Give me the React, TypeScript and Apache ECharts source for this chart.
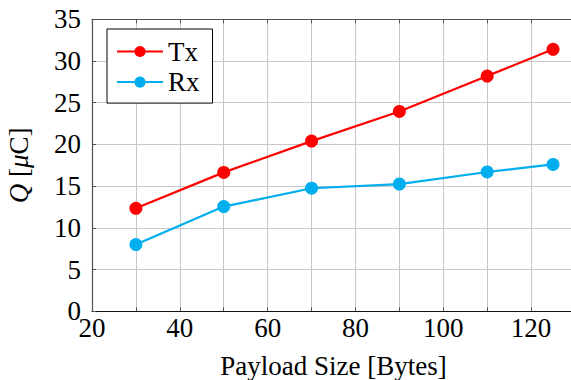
import React, { useEffect, useRef } from "react";
import * as echarts from "echarts";

const payload = [30, 50, 70, 90, 110, 125];
const txValues = [12.35, 16.65, 20.4, 23.95, 28.2, 31.4];
const rxValues = [8.0, 12.55, 14.75, 15.25, 16.7, 17.6];
const seriesNames = ["Tx", "Rx"];
const xTitle = "Payload Size [Bytes]";
const yTitle = "{i|Q} [{i|μ}C]";

const FONT = "Liberation Serif";

export default function App() {
  const ref = useRef<HTMLDivElement>(null);
  useEffect(() => {
    if (!ref.current) return;
    const chart = echarts.init(ref.current, undefined, { renderer: "svg" });
    const frameColor = "#505050";
    const gridColor = "#c8c8c8";
    const labelStyle = { fontSize: 27, fontFamily: FONT, color: "#000" };
    const option: any = {
      animation: false,
      backgroundColor: "#fff",
      grid: {
        left: 92,
        top: 19.3,
        right: 25,
        bottom: 68.7,
        containLabel: false,
        outerBoundsMode: "none",
      },
      legend: {
        orient: "vertical",
        left: 107,
        top: 29,
        data: seriesNames,
        backgroundColor: "#fff",
        borderColor: "#000",
        borderWidth: 1,
        padding: [7.5, 13, 6, 9],
        itemGap: 0.6,
        itemWidth: 46,
        itemHeight: 14,
        textStyle: { ...labelStyle, lineHeight: 30 },
      },
      xAxis: [
        {
          type: "value",
          min: 20,
          max: 130,
          interval: 10,
          name: xTitle,
          nameLocation: "middle",
          nameGap: 42.5,
          nameTextStyle: { ...labelStyle, lineHeight: 24 },
          axisLine: { show: true, onZero: false, lineStyle: { color: "#111", width: 1.2 } },
          axisTick: { show: true, inside: true, length: 4, lineStyle: { color: frameColor } },
          axisLabel: {
            ...labelStyle,
            margin: 3.5,
            formatter: (v: number) => (v % 20 === 0 && v <= 120 ? String(v) : ""),
          },
          splitLine: { show: true, lineStyle: { color: gridColor, width: 1 } },
        },
        {
          type: "value",
          position: "top",
          min: 20,
          max: 130,
          interval: 10,
          axisLine: { show: true, onZero: false, lineStyle: { color: frameColor, width: 1.2 } },
          axisTick: { show: true, inside: true, length: 4, lineStyle: { color: frameColor } },
          axisLabel: { show: false },
          splitLine: { show: false },
        },
      ],
      yAxis: [
        {
          type: "value",
          min: 0,
          max: 35,
          interval: 5,
          name: yTitle,
          nameLocation: "middle",
          nameGap: 59.5,
          nameRotate: 90,
          nameTextStyle: {
            ...labelStyle,
            rich: { i: { ...labelStyle, fontStyle: "italic" } },
          },
          axisLine: { show: true, onZero: false, lineStyle: { color: frameColor, width: 1.2 } },
          axisTick: { show: true, inside: true, length: 4, lineStyle: { color: frameColor } },
          axisLabel: { ...labelStyle, margin: 11 },
          splitLine: { show: true, lineStyle: { color: gridColor, width: 1 } },
        },
        {
          type: "value",
          position: "right",
          min: 0,
          max: 35,
          interval: 5,
          axisLine: { show: true, onZero: false, lineStyle: { color: frameColor, width: 1.2 } },
          axisTick: { show: true, inside: true, length: 4, lineStyle: { color: frameColor } },
          axisLabel: { show: false },
          splitLine: { show: false },
        },
      ],
      series: [
        {
          name: seriesNames[0],
          type: "line",
          xAxisIndex: 0,
          yAxisIndex: 0,
          data: payload.map((x, i) => [x, txValues[i]]),
          symbol: "circle",
          symbolSize: 13,
          color: "#ff0000",
          lineStyle: { color: "#ff0000", width: 2.2 },
          itemStyle: { color: "#ff0000" },
        },
        {
          name: seriesNames[1],
          type: "line",
          xAxisIndex: 0,
          yAxisIndex: 0,
          data: payload.map((x, i) => [x, rxValues[i]]),
          symbol: "circle",
          symbolSize: 13,
          color: "#00aeef",
          lineStyle: { color: "#00aeef", width: 2.2 },
          itemStyle: { color: "#00aeef" },
        },
      ],
    };
    chart.setOption(option);
    return () => chart.dispose();
  }, []);
  return (
    <div
      style={{
        position: "fixed",
        left: 0,
        top: 0,
        width: 571,
        height: 380,
        overflow: "hidden",
        background: "#fff",
      }}
    >
      <div ref={ref} style={{ width: 600, height: 380 }} />
    </div>
  );
}
